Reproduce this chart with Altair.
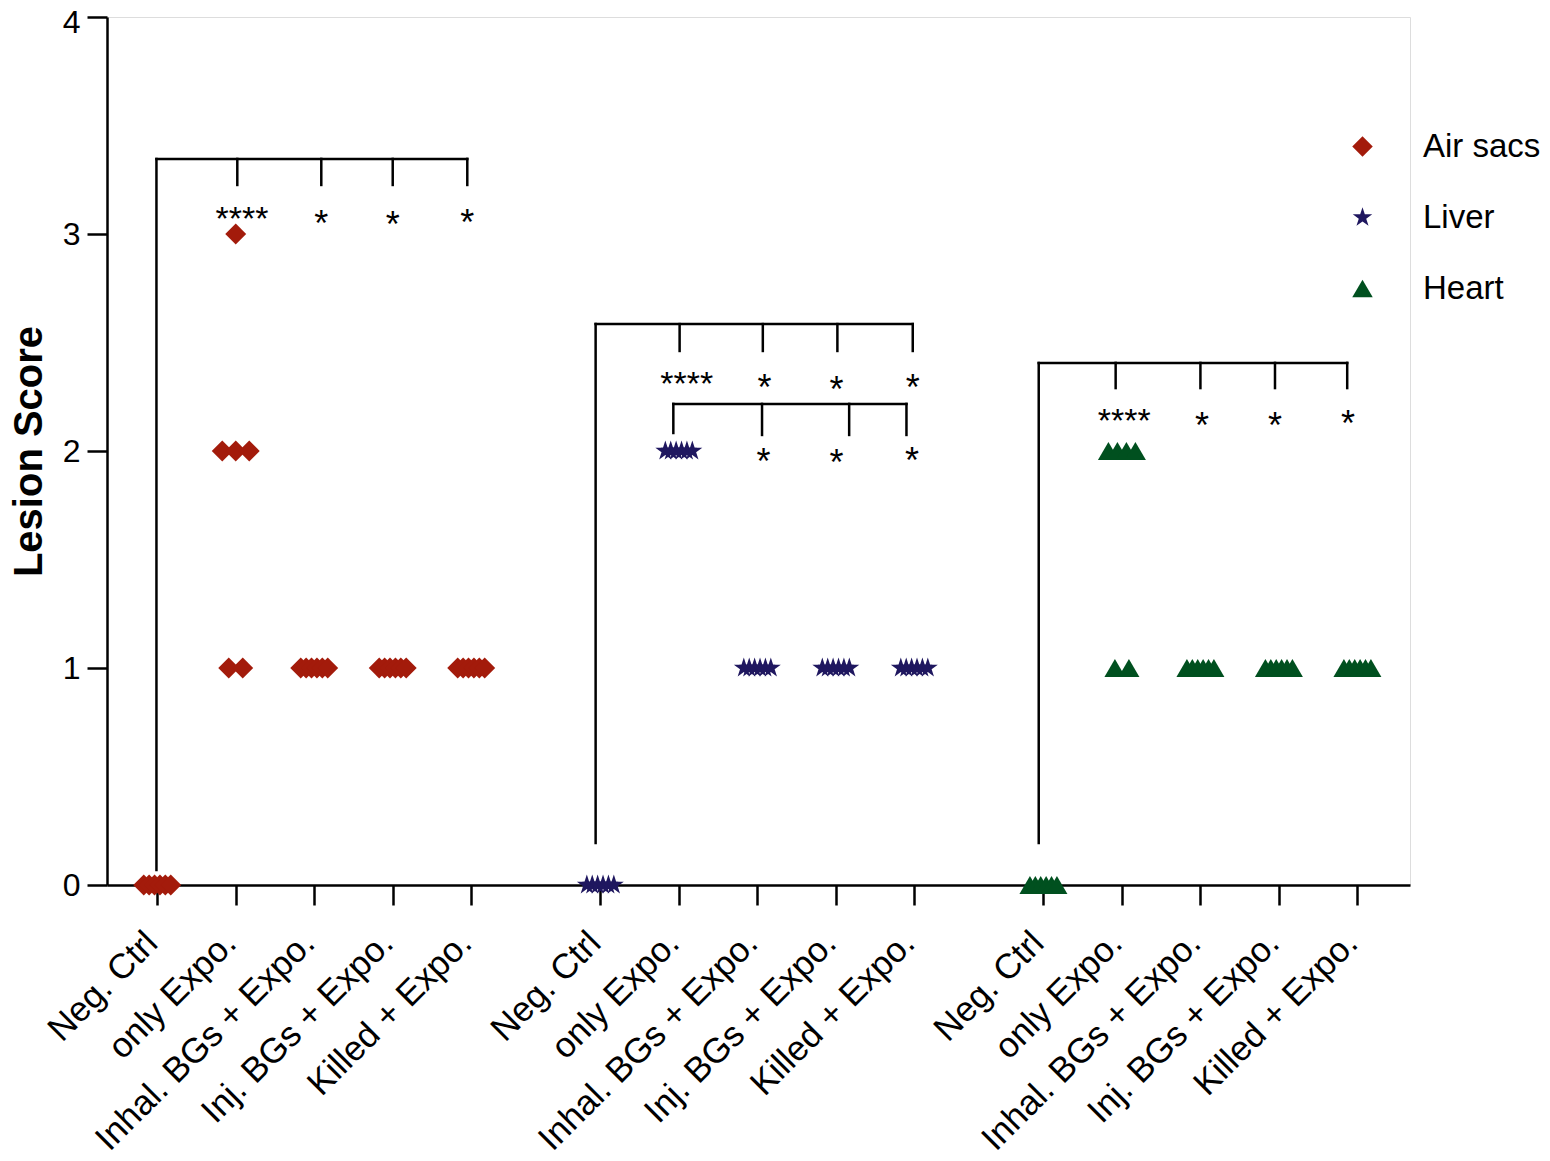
import json
import altair as alt
import pandas as pd

# ---------------- data ----------------
categories = ["Neg. Ctrl", "only Expo.", "Inhal. BGs + Expo.", "Inj. BGs + Expo.", "Killed + Expo."]
organs = ["Air sacs", "Liver", "Heart"]
group_offsets = [0.0, 5.645, 11.29]  # x position of each organ block

air_sacs = [[0, 0, 0, 0, 0, 0], [3, 2, 2, 2, 1, 1], [1, 1, 1, 1, 1, 1], [1, 1, 1, 1, 1, 1], [1, 1, 1, 1, 1, 1]]
liver = [[0, 0, 0, 0, 0, 0], [2, 2, 2, 2, 2, 2], [1, 1, 1, 1, 1, 1], [1, 1, 1, 1, 1, 1], [1, 1, 1, 1, 1, 1]]
heart = [[0, 0, 0, 0, 0, 0], [2, 2, 2, 2, 1, 1], [1, 1, 1, 1, 1, 1], [1, 1, 1, 1, 1, 1], [1, 1, 1, 1, 1, 1]]
organ_values = [air_sacs, liver, heart]

colors = ["#A31B0B", "#1F175F", "#00501F"]
STAR = ("M0,-1L0.2245,-0.309L0.951,-0.309L0.3633,0.118L0.588,0.809L0,0.382"
        "L-0.588,0.809L-0.3633,0.118L-0.951,-0.309L-0.2245,-0.309Z")
shapes = ["diamond", STAR, "triangle-up"]

# significance brackets: (block, left rel x, top y, leg rel xs, leg bottom y, left leg bottom y)
brackets = [
    (0, -0.01, 3.346, [1.02, 2.09, 3.00, 3.95], 3.226, 0.069),
    (1, -0.06, 2.585, [1.01, 2.07, 3.02, 3.98], 2.461, 0.194),
    (1, 0.93, 2.217, [2.06, 3.17, 3.90], 2.074, 2.083),
    (2, -0.06, 2.406, [0.92, 2.00, 2.95, 3.87], 2.290, 0.194),
]
# significance marks: (block, rel x, y centre, text, font size)
sig_marks = [
    (0, 1.08, 3.110, "****", 34), (0, 2.09, 3.083, "*", 36), (0, 3.00, 3.078, "*", 36), (0, 3.95, 3.087, "*", 36),
    (1, 1.10, 2.350, "****", 34), (1, 2.09, 2.327, "*", 36), (1, 3.01, 2.318, "*", 36), (1, 3.98, 2.327, "*", 36),
    (1, 2.08, 1.987, "*", 36), (1, 3.01, 1.982, "*", 36), (1, 3.97, 1.992, "*", 36),
    (2, 1.03, 2.180, "****", 34), (2, 2.02, 2.152, "*", 36), (2, 2.95, 2.152, "*", 36), (2, 3.88, 2.161, "*", 36),
]

# ---------------- tables ----------------
rows = []
for oi, organ in enumerate(organs):
    for ci, cat in enumerate(categories):
        for v in organ_values[oi][ci]:
            rows.append({"organ": organ, "cat": cat, "pos": group_offsets[oi] + ci, "score": v})
points_df = pd.DataFrame(rows)

seg = []
for b, left, top, legs, bot, left_bot in brackets:
    g = group_offsets[b]
    seg.append({"x": g + left, "x2": g + legs[-1], "y": top, "y2": top})
    seg.append({"x": g + left, "x2": g + left, "y": top, "y2": left_bot})
    for lx in legs:
        seg.append({"x": g + lx, "x2": g + lx, "y": top, "y2": bot})
seg_df = pd.DataFrame(seg)

sig_df = pd.DataFrame([
    {"x": group_offsets[b] + rx, "y": y, "t": t, "fs": fs} for b, rx, y, t, fs in sig_marks
])

tick_values = [g + i for g in group_offsets for i in range(len(categories))]
keys = [f"{v:.3f}" for v in tick_values]
names = categories * len(group_offsets)
label_expr = f"{json.dumps(names)}[indexof({json.dumps(keys)}, format(datum.value, '.3f'))]"

FONT = "Liberation Sans"
PX_PER_UNIT = 78.5

x_scale = alt.Scale(domain=[-0.64, 15.96], nice=False, zero=False)
y_scale = alt.Scale(domain=[0, 4], nice=False)

x_axis = alt.Axis(
    values=tick_values, labelExpr=label_expr, title=None, grid=False, orient="bottom",
    labelAngle=-45, labelAlign="right", labelBaseline="top", labelLimit=0,
    labelFontSize=35, labelFont=FONT, labelColor="black", labelPadding=20, labelOffset=-18,
    tickSize=20, tickWidth=2.5, tickColor="black",
    domainColor="black", domainWidth=2.5, labelOverlap=False, labelBound=False,
)
y_axis = alt.Axis(
    values=[0, 1, 2, 3, 4], format="d", title="Lesion Score", grid=False, orient="left",
    titleFont=FONT, titleFontSize=40, titleFontWeight="bold", titleColor="black",
    titleAngle=-90, titleX=-66, titleY=434, titleAlign="center", titleBaseline="alphabetic",
    labelFontSize=32, labelFont=FONT, labelColor="black", labelPadding=7,
    labelOffset={"condition": {"test": "datum.value == 4", "value": 5}, "value": 0},
    tickSize=20, tickWidth=2.5, tickColor="black",
    domainColor="black", domainWidth=2.5,
)
legend = alt.Legend(
    title=None, orient="none", legendX=1239, legendY=113, padding=0,
    labelFontSize=33, labelFont=FONT, labelColor="black", labelOffset=44,
    symbolSize=420, rowPadding=37, symbolStrokeWidth=0,
)

points = alt.Chart(points_df).transform_joinaggregate(
    n="count()", groupby=["organ", "cat", "score"]
).transform_window(
    rank="row_number()", groupby=["organ", "cat", "score"]
).transform_calculate(
    xj=f"datum.pos + (datum.n > 1 ? (datum.rank - (datum.n + 1) / 2) * min(14, 27 / (datum.n - 1)) / {PX_PER_UNIT} : 0)"
).mark_point(filled=True, opacity=1, size=440).encode(
    x=alt.X("xj:Q", scale=x_scale, axis=x_axis),
    y=alt.Y("score:Q", scale=y_scale, axis=y_axis),
    color=alt.Color("organ:N", scale=alt.Scale(domain=organs, range=colors), legend=legend),
    shape=alt.Shape("organ:N", scale=alt.Scale(domain=organs, range=shapes), legend=legend),
)

rules = alt.Chart(seg_df).mark_rule(color="black", strokeWidth=2.5, strokeCap="square").encode(
    x=alt.X("x:Q", scale=x_scale, axis=x_axis), x2="x2:Q",
    y=alt.Y("y:Q", scale=y_scale, axis=y_axis), y2="y2:Q",
)

sigs = alt.Chart(sig_df).mark_text(font=FONT, color="black", baseline="alphabetic", dy=20).encode(
    x=alt.X("x:Q", scale=x_scale, axis=x_axis),
    y=alt.Y("y:Q", scale=y_scale, axis=y_axis),
    text="t:N",
    size=alt.Size("fs:Q", scale=None, legend=None),
)

chart = alt.layer(points, rules, sigs).properties(
    width=1303, height=868,
    autosize=alt.AutoSizeParams(type="none"),
    padding={"left": 99, "top": 9, "right": 132, "bottom": 274},
).configure_view(stroke=None).configure(background="white")

chart.save("out.html", embed_options={"renderer": "svg", "actions": False})
